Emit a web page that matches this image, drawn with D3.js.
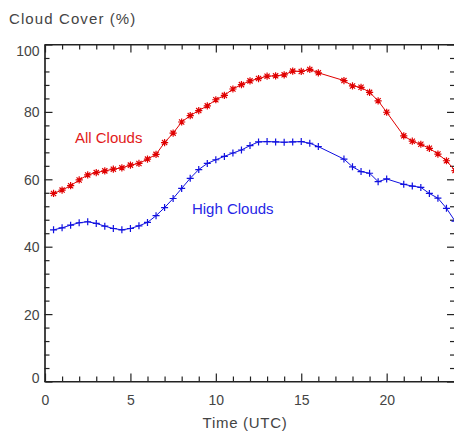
<!DOCTYPE html>
<html>
<head>
<meta charset="utf-8">
<script src="https://cdn.jsdelivr.net/npm/d3@7"></script>
<style>
  body { margin: 0; background: #fff; }
  svg { display: block; }
  text { font-family: 'Liberation Sans', Arial, sans-serif; }
</style>
</head>
<body>
<svg id="chart-root" width="454" height="437"></svg>
<script>

// half-hourly times (UTC), some missing
const times = [0.5, 1, 1.5, 2, 2.5, 3, 3.5, 4, 4.5, 5, 5.5, 6, 6.5, 7, 7.5, 8, 8.5, 9, 9.5, 10,
    10.5, 11, 11.5, 12, 12.5, 13, 13.5, 14, 14.5, 15, 15.5, 16, 17.5, 18, 18.5, 19, 19.5, 20,
    21, 21.5, 22, 22.5, 23, 23.5, 24];

const allClouds = [55.8, 56.8, 58.1, 59.8, 61.3, 62.0, 62.5, 63.0, 63.4, 64.2, 64.7, 66.0, 67.4,
    70.9, 73.7, 77.0, 78.9, 80.4, 81.8, 83.6, 84.9, 86.8, 88.1, 89.2, 89.9, 90.6, 90.7, 91.0,
    92.1, 92.0, 92.6, 91.6, 89.3, 87.7, 87.3, 85.8, 83.3, 79.9, 72.9, 71.3, 70.4, 69.2, 67.5,
    65.5, 62.6];

const highClouds = [45.0, 45.6, 46.4, 47.1, 47.4, 46.9, 46.1, 45.4, 45.0, 45.4, 46.2, 47.2, 49.2,
    51.6, 54.3, 57.3, 60.3, 62.9, 64.7, 65.8, 66.8, 67.8, 68.7, 70.0, 71.1, 71.2, 71.1, 71.0,
    71.1, 71.2, 70.7, 69.7, 66.0, 63.7, 62.3, 61.8, 59.3, 60.1, 58.5, 58.0, 57.6, 55.8, 54.4,
    51.4, 47.6];

const xMajorTicks = [0, 5, 10, 15, 20];
const yMajorTicks = [0, 20, 40, 60, 80, 100];

const seriesLabels = [
    { text: 'All Clouds', t: 1.75, v: 70.9, color: '#e21a1a' },
    { text: 'High Clouds', t: 8.6, v: 49.7, color: '#2626e6' }
];

const root = d3.select('#chart-root');

const plotLeft = 44.5, plotRight = 455, plotTop = 44.5, plotBottom = 381.5;

//Scales
const x = d3.scaleLinear().domain([0, 24]).range([45, plotRight]);
const y = d3.scaleLinear().domain([0, 100]).range([plotBottom, plotTop]);

const axisColor = '#222';
const labelColor = '#444';

const styleAxis = g => {
    g.select('.domain').attr('stroke', axisColor).attr('stroke-width', 1.2);
    g.selectAll('.tick line').attr('stroke', axisColor).attr('stroke-width', 1.2);
    g.selectAll('text').attr('fill', labelColor)
        .attr('font-family', "'Liberation Sans', Arial, sans-serif")
        .attr('font-size', 14);
};

const xMinor = d3.range(0, 25, 1).filter(d => d % 5 !== 0);
const yMinor = d3.range(0, 101, 4).filter(d => d % 20 !== 0);

// bottom axis
root.append('g')
    .attr('transform', `translate(0,${plotBottom})`)
    .call(d3.axisBottom(x).tickValues(xMinor).tickSize(-5).tickSizeOuter(0).tickFormat(''))
    .call(styleAxis);
root.append('g')
    .attr('transform', `translate(0,${plotBottom})`)
    .call(d3.axisBottom(x).tickValues(xMajorTicks).tickSize(-8).tickSizeOuter(0).tickPadding(14))
    .call(styleAxis)
    .call(g => g.select('.domain').attr('d', `M${plotLeft},0H${plotRight}`));

// top axis
root.append('g')
    .attr('transform', `translate(0,${plotTop})`)
    .call(d3.axisTop(x).tickValues(xMinor).tickSize(-5).tickSizeOuter(0).tickFormat(''))
    .call(styleAxis);
root.append('g')
    .attr('transform', `translate(0,${plotTop})`)
    .call(d3.axisTop(x).tickValues(xMajorTicks.concat([24])).tickSize(-8).tickSizeOuter(0).tickFormat(''))
    .call(styleAxis)
    .call(g => g.select('.domain').attr('d', `M${plotLeft},0H${plotRight}`));

// left axis
root.append('g')
    .attr('transform', `translate(${plotLeft},0)`)
    .call(d3.axisLeft(y).tickValues(yMinor).tickSize(-5).tickSizeOuter(0).tickFormat(''))
    .call(styleAxis);
root.append('g')
    .attr('transform', `translate(${plotLeft},0)`)
    .call(d3.axisLeft(y).tickValues(yMajorTicks).tickSize(-8).tickSizeOuter(0).tickPadding(5))
    .call(styleAxis)
    .call(g => g.selectAll('text').attr('dy', d => d === 100 ? '0.75em' : (d === 0 ? '0.1em' : '0.36em')));

// right axis
root.append('g')
    .attr('transform', `translate(${plotRight},0)`)
    .call(d3.axisRight(y).tickValues(yMinor).tickSize(-5).tickSizeOuter(0).tickFormat(''))
    .call(styleAxis);
root.append('g')
    .attr('transform', `translate(${plotRight},0)`)
    .call(d3.axisRight(y).tickValues(yMajorTicks).tickSize(-8).tickSizeOuter(0).tickFormat(''))
    .call(styleAxis);

// titles
root.append('text')
    .attr('x', 9).attr('y', 24)
    .attr('font-size', 15)
    .attr('letter-spacing', 1.1)
    .attr('fill', labelColor)
    .text('Cloud Cover (%)');

root.append('text')
    .attr('x', 245).attr('y', 427.5)
    .attr('text-anchor', 'middle')
    .attr('font-size', 15)
    .attr('letter-spacing', 0.7)
    .attr('fill', labelColor)
    .text('Time (UTC)');

//Series
const line = d3.line().x(d => x(d[0])).y(d => y(d[1]));

const drawSeries = (values, color, marker) => {
    const pts = times.map((t, i) => [t, values[i]]);
    root.append('path')
        .datum(pts)
        .attr('fill', 'none')
        .attr('stroke', color)
        .attr('stroke-width', 1)
        .attr('d', line);

    root.append('g').selectAll('path')
        .data(pts)
        .join('path')
        .attr('transform', d => `translate(${x(d[0])},${y(d[1])})`)
        .attr('d', marker)
        .attr('fill', 'none')
        .attr('stroke', color)
        .attr('stroke-width', 1.2);
};

// asterisk (plus + cross) and plus markers
const a = 3.6, b = 2.6;
const asterisk = `M${-a},0H${a}M0,${-a}V${a}M${-b},${-b}L${b},${b}M${-b},${b}L${b},${-b}`;
const p = 3.5;
const plus = `M${-p},0H${p}M0,${-p}V${p}`;

drawSeries(allClouds, '#e00000', asterisk);
drawSeries(highClouds, '#1010e0', plus);

root.selectAll('.series-label')
    .data(seriesLabels)
    .join('text')
    .attr('class', 'series-label')
    .attr('x', d => x(d.t))
    .attr('y', d => y(d.v))
    .attr('font-size', 15)
    .attr('fill', d => d.color)
    .text(d => d.text);

</script>
</body>
</html>
